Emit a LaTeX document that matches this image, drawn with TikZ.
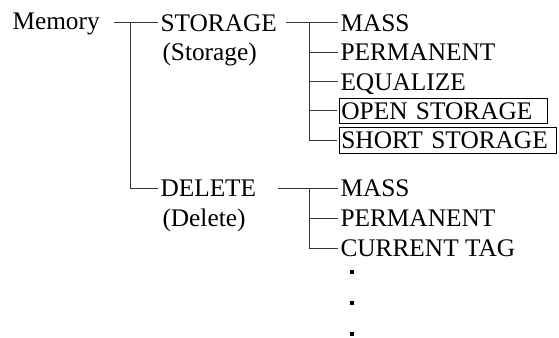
\documentclass[tikz,border=0pt]{standalone}
\usepackage{fontspec}
\setmainfont{Liberation Serif}
\usetikzlibrary{positioning}

\tikzset{every picture/.style={line width=0.75pt}}
\tikzset{
  item/.style={anchor=west, inner sep=0pt, text height=15.9pt, text depth=3.4pt, font=\fontsize{19}{23}\selectfont},
  boxitem/.style={item, draw, inner xsep=1.5pt, inner ysep=0pt, align=left, line width=0.6pt},
  branch/.style={draw=black!80, line width=0.75pt, shorten >=1.5pt},
  dot/.style={fill, minimum size=3.2pt, inner sep=0pt}
}

\begin{document}
\begin{tikzpicture}[x=0.75pt,y=0.75pt,yscale=-1,xscale=1]
\path (0,0) rectangle (559,338); %diagram size

% Text Nodes
\node[item] (mem) at (12,21) {Memory};
\node[item] (stor) at (160,23) {STORAGE};
\node[item] (storsub) at (162,52.5) {(Storage)};
\node[item] (del) at (160,188) {DELETE};
\node[item] (delsub) at (162,218) {(Delete)};

% Storage items
\node[item] (smass) at (340,23) {MASS};
\node[item] (sperm) at (340,52.5) {PERMANENT};
\node[item] (sequ) at (340,82) {EQUALIZE};
\node[boxitem, text width=153pt] (sopen) at (339,111) {OPEN STORAGE};
\node[boxitem, text width=160pt] (sshort) at (339,140.5) {SHORT STORAGE};

% Delete items
\node[item] (dmass) at (340,188) {MASS};
\node[item] (dperm) at (340,218) {PERMANENT};
\node[item] (dcur) at (340,248) {CURRENT TAG};
\node[dot] (dot1) at (352,272) {};
\node[dot] (dot2) at (352,303) {};
\node[dot] (dot3) at (352,334) {};

% Branches
\coordinate (m0) at (114,23);
\coordinate (mj) at (130,23);
\draw[branch] (m0) -- (stor.west);
\draw[branch] (mj) |- (del.west);

\coordinate (s0) at (286,23);
\coordinate (sj) at (309,23);
\draw[branch] (s0) -- (smass.west);
\foreach \n in {sperm,sequ,sopen,sshort}
  \draw[branch] (sj) |- (\n.west);

\coordinate (d0) at (278,188);
\coordinate (dj) at (309,188);
\draw[branch] (d0) -- (dmass.west);
\foreach \n in {dperm,dcur}
  \draw[branch] (dj) |- (\n.west);

\end{tikzpicture}
\end{document}
